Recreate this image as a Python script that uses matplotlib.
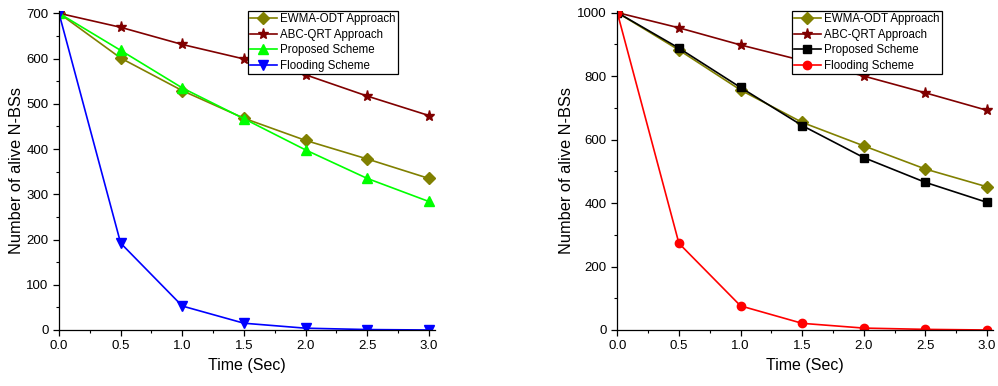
import matplotlib
matplotlib.use("Agg")
import matplotlib.pyplot as plt
from matplotlib.ticker import MultipleLocator

plt.rcParams['font.family'] = ['Liberation Sans', 'DejaVu Sans']

time = [0.0, 0.5, 1.0, 1.5, 2.0, 2.5, 3.0]
xtick_labels = ["0.0", "0.5", "1.0", "1.5", "2.0", "2.5", "3.0"]

# Left panel (700 nodes)
ewma_l = [700, 601, 529, 468, 419, 378, 335]
abc_l = [700, 669, 631, 599, 564, 517, 474]
prop_l = [700, 618, 535, 467, 398, 335, 284]
flood_l = [700, 192, 53, 15, 4, 1, 0]

# Right panel (1000 nodes)
ewma_r = [1000, 882, 756, 654, 580, 507, 451]
abc_r = [1000, 952, 898, 849, 800, 747, 692]
prop_r = [1000, 888, 764, 644, 543, 465, 402]
flood_r = [1000, 273, 76, 21, 6, 2, 0]

labels = ["EWMA-ODT Approach", "ABC-QRT Approach", "Proposed Scheme", "Flooding Scheme"]

fig = plt.figure(figsize=(9.98, 3.86), dpi=100)
W, H = 998, 386

def make_ax(x0, ylim, ymaj, ymin_):
    ax = fig.add_axes([x0 / W, (H - 330) / H, 376 / W, 319 / H])
    ax.set_xlim(0, 3.05)
    ax.set_ylim(0, ylim)
    ax.spines['top'].set_visible(False)
    ax.spines['right'].set_visible(False)
    ax.set_xticks(time)
    ax.set_xticklabels(xtick_labels)
    ax.xaxis.set_minor_locator(MultipleLocator(0.25))
    ax.yaxis.set_major_locator(MultipleLocator(ymaj))
    ax.yaxis.set_minor_locator(MultipleLocator(ymin_))
    ax.tick_params(which='major', direction='out', length=4, width=0.9, labelsize=9.5)
    ax.tick_params(which='minor', direction='out', length=2.5, width=0.8)
    ax.set_xlabel("Time (Sec)", fontsize=11.5, labelpad=4)
    ax.set_ylabel("Number of alive N-BSs", fontsize=11.8, labelpad=2)
    for s in ax.spines.values():
        s.set_linewidth(0.9)
    return ax

def legend(ax, right_px, x0):
    leg = ax.legend(loc='upper right', bbox_to_anchor=((right_px - x0) / 376, 1.0), fontsize=8.3,
                    frameon=True, fancybox=False, edgecolor='black', framealpha=1,
                    borderpad=0.2, labelspacing=0.3, handlelength=2.3, handletextpad=0.3,
                    borderaxespad=0.0)
    leg.get_frame().set_linewidth(0.9)
    return leg

ax1 = make_ax(59, 705, 100, 50)
ax1.plot(time, ewma_l, marker='D', color='#808000', label=labels[0], lw=1.2, ms=5.8)
ax1.plot(time, abc_l, marker='*', color='#800000', label=labels[1], lw=1.2, ms=8)
ax1.plot(time, prop_l, marker='^', color='#00FF00', label=labels[2], lw=1.2, ms=6.5)
ax1.plot(time, flood_l, marker='v', color='#0000FF', label=labels[3], lw=1.2, ms=6.5)
legend(ax1, 398, 59)

ax2 = make_ax(617.3, 1005, 200, 100)
ax2.plot(time, ewma_r, marker='D', color='#808000', label=labels[0], lw=1.2, ms=5.8)
ax2.plot(time, abc_r, marker='*', color='#800000', label=labels[1], lw=1.2, ms=8)
ax2.plot(time, prop_r, marker='s', color='#000000', label=labels[2], lw=1.2, ms=5.5)
ax2.plot(time, flood_r, marker='o', color='#FF0000', label=labels[3], lw=1.2, ms=6)
legend(ax2, 942, 617.3)

fig.savefig("out.png", dpi=100)
